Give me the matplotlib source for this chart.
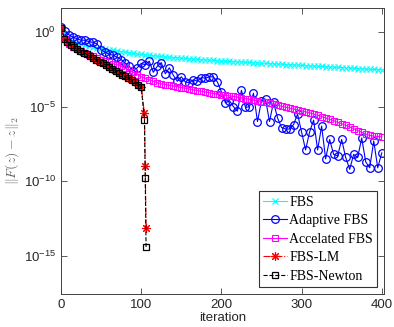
import numpy as np
import matplotlib
matplotlib.use("Agg")
import matplotlib.pyplot as plt

plt.rcParams['mathtext.fontset'] = 'custom'
plt.rcParams['mathtext.rm'] = 'Liberation Sans'
plt.rcParams['mathtext.it'] = 'Liberation Sans:italic'
plt.rcParams['font.family'] = ['Liberation Sans', 'DejaVu Sans']

# log10 of ||F(z)-z||_2
it5 = np.arange(0, 401, 5)

fbs = [0.25, -0.15, -0.4, -0.6, -0.72, -0.82, -0.9, -0.96, -1.01, -1.06,
       -1.1, -1.15, -1.19, -1.23, -1.27, -1.31, -1.35, -1.39, -1.43, -1.47,
       -1.5, -1.53, -1.56, -1.59, -1.62, -1.64, -1.67, -1.69, -1.71, -1.73,
       -1.75, -1.77, -1.79, -1.81, -1.83, -1.85, -1.87, -1.88, -1.9, -1.92,
       -1.94, -1.95, -1.97, -1.98, -2.0, -2.01, -2.03, -2.04, -2.06, -2.07,
       -2.09, -2.1, -2.12, -2.13, -2.15, -2.16, -2.18, -2.19, -2.21, -2.22,
       -2.24, -2.25, -2.27, -2.28, -2.3, -2.31, -2.33, -2.34, -2.36, -2.37,
       -2.39, -2.4, -2.42, -2.43, -2.45, -2.46, -2.48, -2.49, -2.51, -2.52,
       -2.54]

adaptive = [0.35, 0.1, -0.2, -0.35, -0.45, -0.55, -0.55, -0.65, -0.7, -0.8,
            -1.2, -1.35, -1.5, -1.55, -1.7, -1.85, -2.1, -2.3, -2.6, -2.4,
            -2.1, -2.2, -1.95, -2.7, -2.3, -2.05, -2.8, -2.4, -2.9, -3.3,
            -3.0, -3.35, -3.4, -3.2, -3.3, -3.05, -3.1, -3.0, -3.0, -3.35,
            -4.0, -4.75, -4.6, -5.0, -5.3, -3.9, -5.05, -5.0, -4.1, -6.0,
            -4.6, -4.5, -6.0, -4.7, -5.75, -6.4, -6.5, -6.5, -6.2, -5.5,
            -6.7, -7.9, -6.7, -5.9, -7.9, -6.3, -8.5, -7.2, -8.2, -8.3,
            -7.2, -8.4, -9.2, -8.2, -8.4, -7.1, -8.7, -9.1, -7.3, -9.1,
            -8.1]

accel = [0.3, -0.5, -0.8, -1.0, -1.15, -1.28, -1.4, -1.52, -1.64, -1.75,
         -1.86, -1.96, -2.04, -2.12, -2.2, -2.3, -2.42, -2.55, -2.7, -2.85,
         -3.0, -3.1, -3.2, -3.3, -3.4, -3.47, -3.52, -3.57, -3.62, -3.67,
         -3.72, -3.77, -3.82, -3.87, -3.92, -3.97, -4.02, -4.07, -4.12, -4.16,
         -4.2, -4.24, -4.28, -4.32, -4.36, -4.41, -4.46, -4.51, -4.56, -4.61,
         -4.66, -4.72, -4.78, -4.84, -4.9, -4.97, -5.04, -5.1, -5.16, -5.22,
         -5.28, -5.35, -5.42, -5.5, -5.58, -5.67, -5.76, -5.85, -5.95, -6.05,
         -6.15, -6.25, -6.36, -6.48, -6.6, -6.72, -6.84, -6.93, -6.98, -7.0,
         -7.02]

it_newton = [0, 4, 8, 12, 16, 20, 24, 28, 32, 36, 40, 44, 48, 52, 56, 60,
             64, 68, 72, 76, 80, 84, 88, 92, 96, 100, 104, 105, 106]
fbs_lm = [0.3, -0.45, -0.7, -0.88, -1.02, -1.15, -1.27, -1.38, -1.5, -1.62,
          -1.74, -1.86, -1.98, -2.1, -2.22, -2.35, -2.48, -2.6, -2.72, -2.85,
          -2.98, -3.1, -3.22, -3.38, -3.52, -3.68, -5.45, -9.0, -13.1]
fbs_newton = [0.3, -0.45, -0.7, -0.88, -1.02, -1.15, -1.27, -1.38, -1.5, -1.62,
              -1.74, -1.86, -1.98, -2.1, -2.22, -2.35, -2.48, -2.6, -2.72, -2.85,
              -2.98, -3.1, -3.22, -3.38, -3.52, -3.68, -5.9, -9.75, -14.4]

fig = plt.figure(figsize=(3.94, 3.27), dpi=100)
ax = fig.add_axes([0.155, 0.101, 0.82, 0.876])

p = lambda v: 10.0 ** np.array(v)
ax.semilogy(it5, p(fbs), '-x', color='cyan', lw=0.8, ms=4.5, mew=0.8, label='FBS')
ax.semilogy(it5, p(adaptive), '-o', color='blue', lw=0.8, ms=5.5, mew=0.9,
            mfc='none', label='Adaptive FBS')
ax.semilogy(it5, p(accel), '-s', color='magenta', lw=0.8, ms=4, mew=0.8,
            mfc='none', label='Accelated FBS')
ax.semilogy(it_newton, p(fbs_lm), '-.', marker=(8, 2, 0), color='red', lw=0.8,
            ms=6.5, mew=0.8, label='FBS-LM')
ax.semilogy(it_newton, p(fbs_newton), '--s', color='black', lw=0.8, ms=4, mew=0.9,
            mfc='none', label='FBS-Newton')

ax.set_xlim(0, 403)
ax.set_ylim(10 ** -17.55, 10 ** 1.64)
ax.set_xticks([0, 100, 200, 300, 400])
ax.set_yticks([1e-15, 1e-10, 1e-5, 1e0])
ax.set_yticklabels([r'$10^{-15}$', r'$10^{-10}$', r'$10^{-5}$', r'$10^{0}$'])
ax.minorticks_off()
ax.tick_params(direction='in', top=True, right=True, length=4, width=0.6,
               colors='0.25', labelsize=9.5, labelcolor='0.15')
for s in ax.spines.values():
    s.set_color('0.25')
    s.set_linewidth(0.7)

ax.set_xlabel('iteration', fontsize=9.5, color='0.15', labelpad=1)
yl = ax.set_ylabel(r'$\|F(z)-z\|_2$', fontsize=10, color='0.4', labelpad=2)
yl.set_math_fontfamily('cm')

leg = ax.legend(loc='lower right', prop={'family': 'Liberation Serif', 'size': 10},
                fancybox=False, framealpha=1, edgecolor='0.2',
                handlelength=1.7, handletextpad=0.2, labelspacing=0.4,
                borderpad=0.3, borderaxespad=0.5)
leg.get_frame().set_linewidth(0.8)

fig.savefig('out.png', dpi=100)
